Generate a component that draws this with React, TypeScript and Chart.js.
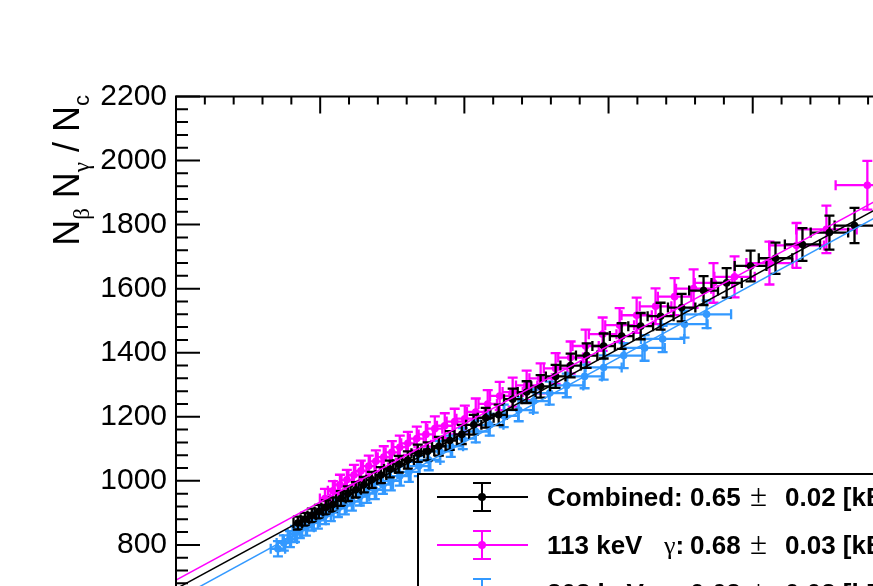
import React, { useEffect, useRef } from "react";
import { Chart, registerables } from "chart.js";

Chart.register(...registerables);

// ---- Combined (black) ----
const combinedX = [0.845, 0.894, 0.942, 0.991, 1.04, 1.088, 1.143, 1.192, 1.247, 1.303, 1.358, 1.421, 1.483, 1.545, 1.608, 1.677, 1.746, 1.823, 1.899, 1.982, 2.065, 2.148, 2.238, 2.335, 2.432, 2.529, 2.633, 2.737, 2.848, 2.966, 3.091, 3.223, 3.361, 3.507, 3.659, 3.819, 3.985, 4.158, 4.345, 4.532, 4.706];
const combinedY = [868, 880, 892, 904, 917, 926, 945, 960, 972, 988, 1003, 1018, 1037, 1052, 1065, 1086, 1092, 1108, 1126, 1145, 1175, 1197, 1206, 1255, 1277, 1295, 1326, 1360, 1391, 1421, 1452, 1483, 1514, 1541, 1594, 1618, 1671, 1695, 1738, 1775, 1797];
const combinedXErr = [0.03, 0.03, 0.03, 0.03, 0.032, 0.032, 0.034, 0.034, 0.036, 0.036, 0.038, 0.038, 0.04, 0.04, 0.042, 0.044, 0.045, 0.047, 0.049, 0.051, 0.053, 0.055, 0.057, 0.06, 0.062, 0.065, 0.068, 0.071, 0.074, 0.078, 0.082, 0.086, 0.09, 0.095, 0.1, 0.105, 0.11, 0.116, 0.122, 0.13, 0.138];
const combinedYErr = [20, 20, 21, 21, 22, 22, 23, 23, 24, 24, 25, 25, 26, 26, 27, 27, 28, 29, 29, 30, 31, 31, 32, 33, 34, 35, 36, 37, 38, 39, 40, 41, 42, 43, 45, 46, 48, 49, 51, 53, 55];

// ---- 113 keV gamma (magenta) ----
const g113X = [1.033, 1.088, 1.137, 1.185, 1.234, 1.282, 1.337, 1.386, 1.441, 1.497, 1.552, 1.608, 1.67, 1.733, 1.795, 1.864, 1.933, 2.003, 2.079, 2.162, 2.245, 2.335, 2.432, 2.529, 2.633, 2.737, 2.841, 2.959, 3.077, 3.195, 3.326, 3.458, 3.59, 3.728, 3.874, 4.116, 4.304, 4.511, 4.795];
const g113Y = [945, 969, 988, 1003, 1018, 1031, 1046, 1061, 1074, 1089, 1105, 1117, 1132, 1145, 1163, 1172, 1185, 1194, 1215, 1240, 1265, 1277, 1298, 1320, 1351, 1385, 1421, 1458, 1486, 1517, 1545, 1575, 1600, 1618, 1637, 1680, 1735, 1785, 1923];
const g113XErr = [0.035, 0.035, 0.036, 0.037, 0.038, 0.039, 0.04, 0.041, 0.042, 0.043, 0.045, 0.046, 0.048, 0.05, 0.052, 0.054, 0.056, 0.058, 0.061, 0.064, 0.067, 0.07, 0.074, 0.078, 0.082, 0.086, 0.091, 0.096, 0.1, 0.105, 0.11, 0.116, 0.122, 0.13, 0.14, 0.16, 0.19, 0.21, 0.22];
const g113YErr = [30, 30, 31, 31, 32, 32, 33, 34, 34, 35, 36, 36, 37, 38, 38, 39, 40, 41, 42, 43, 44, 45, 46, 47, 48, 50, 51, 52, 53, 55, 56, 58, 60, 62, 64, 67, 70, 74, 76];

// ---- 208 keV gamma (azure) ----
const g208X = [0.707, 0.748, 0.79, 0.825, 0.859, 0.901, 0.942, 0.984, 1.033, 1.074, 1.123, 1.171, 1.22, 1.275, 1.324, 1.379, 1.435, 1.49, 1.552, 1.615, 1.684, 1.753, 1.83, 1.906, 1.989, 2.079, 2.176, 2.273, 2.377, 2.481, 2.592, 2.71, 2.834, 2.966, 3.105, 3.25, 3.375, 3.527, 3.68];
const g208Y = [788, 806, 818, 834, 846, 855, 871, 877, 892, 901, 914, 923, 935, 951, 960, 972, 988, 1000, 1015, 1028, 1046, 1065, 1092, 1108, 1132, 1154, 1175, 1203, 1221, 1249, 1274, 1298, 1326, 1354, 1391, 1415, 1443, 1489, 1520];
const g208XErr = [0.05, 0.05, 0.05, 0.05, 0.05, 0.055, 0.055, 0.055, 0.06, 0.06, 0.06, 0.06, 0.065, 0.065, 0.065, 0.07, 0.07, 0.07, 0.075, 0.075, 0.08, 0.08, 0.085, 0.085, 0.09, 0.09, 0.095, 0.1, 0.1, 0.105, 0.11, 0.115, 0.12, 0.125, 0.13, 0.14, 0.15, 0.16, 0.17];
const g208YErr = [24, 24, 25, 25, 25, 26, 26, 26, 27, 27, 27, 28, 28, 28, 29, 29, 29, 30, 30, 31, 31, 32, 32, 33, 33, 34, 34, 35, 35, 36, 36, 37, 37, 38, 39, 40, 41, 42, 43];

// ---- Linear fits: [Combined, 113 keV, 208 keV] ----
const fitIntercept = [663, 690, 629];
const fitSlope = [244, 244, 246];

// ---- Legend ----
const legendNames = ["Combined", "113 keV", "208 keV"];
const legendActivity = ["0.65", "0.68", "0.62"];
const legendActivityErr = ["0.02", "0.03", "0.02"];

// ---- Axes ----
const xRange = [0, 5.5];
const yRange = [400, 2200];
const yMajorStep = 200;

const colors = ["#000000", "#ff00ff", "#3399ff"];

const SANS = "'Liberation Sans', Arial, Helvetica, sans-serif";
const SERIF = "'Liberation Serif', 'Times New Roman', serif";

const toPoints = (xs: number[], ys: number[]) => xs.map((x, i) => ({ x, y: ys[i] }));

const errorBarPlugin = {
  id: "errorBars",
  beforeDatasetDraw(chart: any, args: any) {
    const ds = chart.data.datasets[args.index];
    if (!ds.xErr) return;
    const xs = chart.scales.x;
    const ys = chart.scales.y;
    const a = chart.chartArea;
    const ctx = chart.ctx as CanvasRenderingContext2D;
    const cap = 5;
    ctx.save();
    ctx.beginPath();
    ctx.rect(a.left, a.top, a.right - a.left, a.bottom - a.top);
    ctx.clip();
    ctx.strokeStyle = ds.borderColor;
    ctx.lineWidth = 2.3;
    ds.data.forEach((p: any, i: number) => {
      const px = xs.getPixelForValue(p.x);
      const py = ys.getPixelForValue(p.y);
      const x0 = xs.getPixelForValue(p.x - ds.xErr[i]);
      const x1 = xs.getPixelForValue(p.x + ds.xErr[i]);
      const y0 = ys.getPixelForValue(p.y - ds.yErr[i]);
      const y1 = ys.getPixelForValue(p.y + ds.yErr[i]);
      ctx.beginPath();
      ctx.moveTo(x0, py);
      ctx.lineTo(x1, py);
      ctx.moveTo(px, y0);
      ctx.lineTo(px, y1);
      ctx.moveTo(x0, py - cap);
      ctx.lineTo(x0, py + cap);
      ctx.moveTo(x1, py - cap);
      ctx.lineTo(x1, py + cap);
      ctx.moveTo(px - cap, y0);
      ctx.lineTo(px + cap, y0);
      ctx.moveTo(px - cap, y1);
      ctx.lineTo(px + cap, y1);
      ctx.stroke();
    });
    ctx.restore();
  },
};

const framePlugin = {
  id: "frameTicks",
  afterDatasetsDraw(chart: any) {
    const ctx = chart.ctx as CanvasRenderingContext2D;
    const a = chart.chartArea;
    const xs = chart.scales.x;
    const ys = chart.scales.y;
    ctx.save();
    ctx.strokeStyle = "#000";
    ctx.lineWidth = 2;
    ctx.strokeRect(a.left, a.top, a.right - a.left, a.bottom - a.top);
    ctx.beginPath();
    // y ticks: 5 subdivisions per major step, pointing inward on left and right
    const yMinor = yMajorStep / 5;
    const nY = Math.round((yRange[1] - yRange[0]) / yMinor);
    for (let i = 0; i <= nY; i++) {
      const v = yRange[0] + i * yMinor;
      const y = ys.getPixelForValue(v);
      const len = i % 5 === 0 ? 24 : 12;
      ctx.moveTo(a.left, y);
      ctx.lineTo(a.left + len, y);
      ctx.moveTo(a.right, y);
      ctx.lineTo(a.right - len, y);
    }
    // x ticks: major every 1, minor every 0.2, pointing inward on top and bottom
    const nX = Math.round((xRange[1] - xRange[0]) / 0.2);
    for (let i = 0; i <= nX; i++) {
      const v = xRange[0] + i * 0.2;
      const x = xs.getPixelForValue(v);
      const len = i % 5 === 0 ? 17 : 8;
      ctx.moveTo(x, a.top);
      ctx.lineTo(x, a.top + len);
      ctx.moveTo(x, a.bottom);
      ctx.lineTo(x, a.bottom - len);
    }
    ctx.stroke();
    ctx.restore();
  },
};

type Seg = { t: string; font: string; dy?: number };

function drawSegs(ctx: CanvasRenderingContext2D, segs: Seg[], x: number, y: number) {
  let cx = x;
  for (const s of segs) {
    ctx.font = s.font;
    ctx.fillText(s.t, cx, y + (s.dy || 0));
    cx += ctx.measureText(s.t).width;
  }
  return cx;
}

function segsWidth(ctx: CanvasRenderingContext2D, segs: Seg[]) {
  let w = 0;
  for (const s of segs) {
    ctx.font = s.font;
    w += ctx.measureText(s.t).width;
  }
  return w;
}

const titlePlugin = {
  id: "yTitle",
  afterDraw(chart: any) {
    const ctx = chart.ctx as CanvasRenderingContext2D;
    const big = `36px ${SANS}`;
    const subSerif = `23px ${SERIF}`;
    const subSans = `22px ${SANS}`;
    const segs: Seg[] = [
      { t: "N", font: big },
      { t: "β", font: subSerif, dy: 10 },
      { t: " N", font: big },
      { t: "γ", font: subSerif, dy: 10 },
      { t: " / N", font: big },
      { t: "c", font: subSans, dy: 10 },
    ];
    ctx.save();
    ctx.fillStyle = "#000";
    ctx.textBaseline = "alphabetic";
    ctx.textAlign = "left";
    ctx.translate(79, 95);
    ctx.rotate(-Math.PI / 2);
    const w = segsWidth(ctx, segs);
    drawSegs(ctx, segs, -w, 0);
    ctx.restore();
  },
};

const legendPlugin = {
  id: "fitLegend",
  afterDraw(chart: any) {
    const ctx = chart.ctx as CanvasRenderingContext2D;
    const left = 418;
    const top = 474;
    const right = 995;
    const rowH = 48;
    const bottom = top + 3 * rowH + 6;
    ctx.save();
    ctx.fillStyle = "#fff";
    ctx.fillRect(left, top, right - left, bottom - top);
    ctx.strokeStyle = "#000";
    ctx.lineWidth = 2;
    ctx.strokeRect(left, top, right - left, bottom - top);
    const bold = `bold 26px ${SANS}`;
    const sym = `26px ${SERIF}`;
    const pm = `31px ${SERIF}`;
    for (let i = 0; i < 3; i++) {
      const cy = top + 23 + i * rowH;
      const cx = 482;
      const col = colors[i];
      ctx.strokeStyle = col;
      ctx.fillStyle = col;
      ctx.lineWidth = 2;
      ctx.beginPath();
      ctx.moveTo(437, cy);
      ctx.lineTo(528, cy);
      ctx.moveTo(cx, cy - 14);
      ctx.lineTo(cx, cy + 14);
      ctx.moveTo(cx - 9, cy - 14);
      ctx.lineTo(cx + 9, cy - 14);
      ctx.moveTo(cx - 9, cy + 14);
      ctx.lineTo(cx + 9, cy + 14);
      ctx.stroke();
      ctx.beginPath();
      ctx.arc(cx, cy, 4, 0, Math.PI * 2);
      ctx.fill();

      ctx.fillStyle = "#000";
      ctx.textBaseline = "alphabetic";
      const base = cy + 9;
      if (i === 0) {
        drawSegs(ctx, [{ t: `${legendNames[i]}:`, font: bold }], 547, base);
      } else {
        drawSegs(ctx, [{ t: legendNames[i], font: bold }], 547, base);
        drawSegs(ctx, [{ t: "γ", font: sym }, { t: ":", font: bold }], 664, base);
      }
      drawSegs(ctx, [{ t: legendActivity[i], font: bold }], 690, base);
      drawSegs(ctx, [{ t: "±", font: pm }], 750, base);
      drawSegs(ctx, [{ t: `${legendActivityErr[i]} [kBq]`, font: bold }], 785, base);
    }
    ctx.restore();
  },
};

export default function App() {
  const ref = useRef<HTMLCanvasElement>(null);

  useEffect(() => {
    if (!ref.current) return;
    const series = [
      { x: combinedX, y: combinedY, xe: combinedXErr, ye: combinedYErr, label: "Combined" },
      { x: g208X, y: g208Y, xe: g208XErr, ye: g208YErr, label: "208 keV" },
      { x: g113X, y: g113Y, xe: g113XErr, ye: g113YErr, label: "113 keV" },
    ];
    const seriesColor = [colors[0], colors[2], colors[1]];
    const fitOrder = [1, 0, 2];
    const fitSets = fitOrder.map((k) => ({
      label: `fit ${legendNames[k]}`,
      data: xRange.map((x) => ({ x, y: fitIntercept[k] + fitSlope[k] * x })),
      showLine: true,
      borderColor: colors[k],
      borderWidth: 1.5,
      pointRadius: 0,
    }));
    const pointSets = series.map((s, i) => ({
      label: s.label,
      data: toPoints(s.x, s.y),
      xErr: s.xe,
      yErr: s.ye,
      showLine: false,
      borderColor: seriesColor[i],
      backgroundColor: seriesColor[i],
      pointBackgroundColor: seriesColor[i],
      pointBorderWidth: 0,
      pointRadius: 3.8,
    }));

    const chart = new Chart(ref.current, {
      type: "scatter",
      data: { datasets: [...fitSets, ...pointSets] as any },
      options: {
        responsive: false,
        animation: false,
        devicePixelRatio: 1,
        layout: { padding: { left: 0, top: 96.5, right: 31, bottom: 18.3 } },
        plugins: { legend: { display: false }, tooltip: { enabled: false } },
        scales: {
          x: { type: "linear", min: xRange[0], max: xRange[1], display: false },
          y: {
            type: "linear",
            min: yRange[0],
            max: yRange[1],
            grid: { display: false, drawTicks: false },
            border: { display: false },
            ticks: {
              stepSize: yMajorStep,
              padding: 9,
              autoSkip: false,
              color: "#000",
              font: { family: SANS, size: 30 },
              callback: (v: any) => String(v),
            },
            afterFit(scale: any) {
              scale.width = 176;
            },
          },
        },
      } as any,
      plugins: [errorBarPlugin, framePlugin, titlePlugin, legendPlugin],
    });
    return () => chart.destroy();
  }, []);

  return (
    <div
      style={{
        position: "fixed",
        left: 0,
        top: 0,
        width: 873,
        height: 586,
        overflow: "hidden",
        background: "#fff",
      }}
    >
      <canvas ref={ref} width={1000} height={700} style={{ display: "block" }} />
    </div>
  );
}
